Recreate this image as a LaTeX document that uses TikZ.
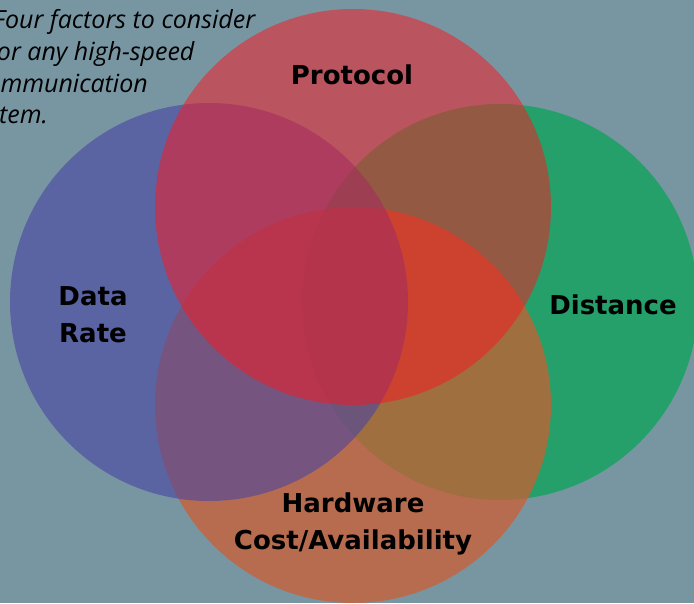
\documentclass[tikz,border=0pt]{standalone}
\usepackage{fontspec}
\setmainfont{DejaVu Sans}
\newfontfamily\notefont{Open Sans}
\definecolor{slatebg}{RGB}{120,150,162}
\definecolor{vennred}{RGB}{246,26,34}
\definecolor{venngreen}{RGB}{37,160,106}
\definecolor{vennorange}{RGB}{210,91,46}
\definecolor{vennblue}{RGB}{73,68,162}
\tikzset{
  label text/.style={font=\bfseries\fontsize{26}{37}\selectfont, align=center, text=black},
  note text/.style={font=\notefont\itshape\fontsize{25}{32}\selectfont, anchor=base west, inner sep=0pt, text=black}
}

\begin{document}
\begin{tikzpicture}[x=1pt,y=-1pt]
		%%%%% START %%%%%
		\useasboundingbox (0,0) rectangle (694,603);
		\clip (0,0) rectangle (694,603);
		\fill[slatebg] (0,0) rectangle (694,603);
		
		% the four circles
		\fill[venngreen] (500,302) circle[radius=198pt];
		\fill[vennorange, fill opacity=0.71] (353,405) circle[radius=198pt];
		\fill[vennblue, fill opacity=0.6] (209,302) circle[radius=199pt];
		\fill[vennred, fill opacity=0.53] (353,207) circle[radius=198pt];
		
		% labels
		\node[label text] (protocol) at (352,75) {Protocol};
		\node[label text] (datarate) at (93,315) {Data\\Rate};
		\node[label text] (distance) at (613,305) {Distance};
		\node[label text] (hardware) at (353,524) {Hardware\\Cost/Availability};
		
		% note in the corner
		\node[note text] (note1) at (-7,28) {Four factors to consider};
		\node[note text] (note2) at (-11,60) {for any high-speed};
		\node[note text] (note3) at (-25,92) {communication};
		\node[note text] (note4) at (-34,123) {system.};
		%%%%% END %%%%%
\end{tikzpicture}
\end{document}
